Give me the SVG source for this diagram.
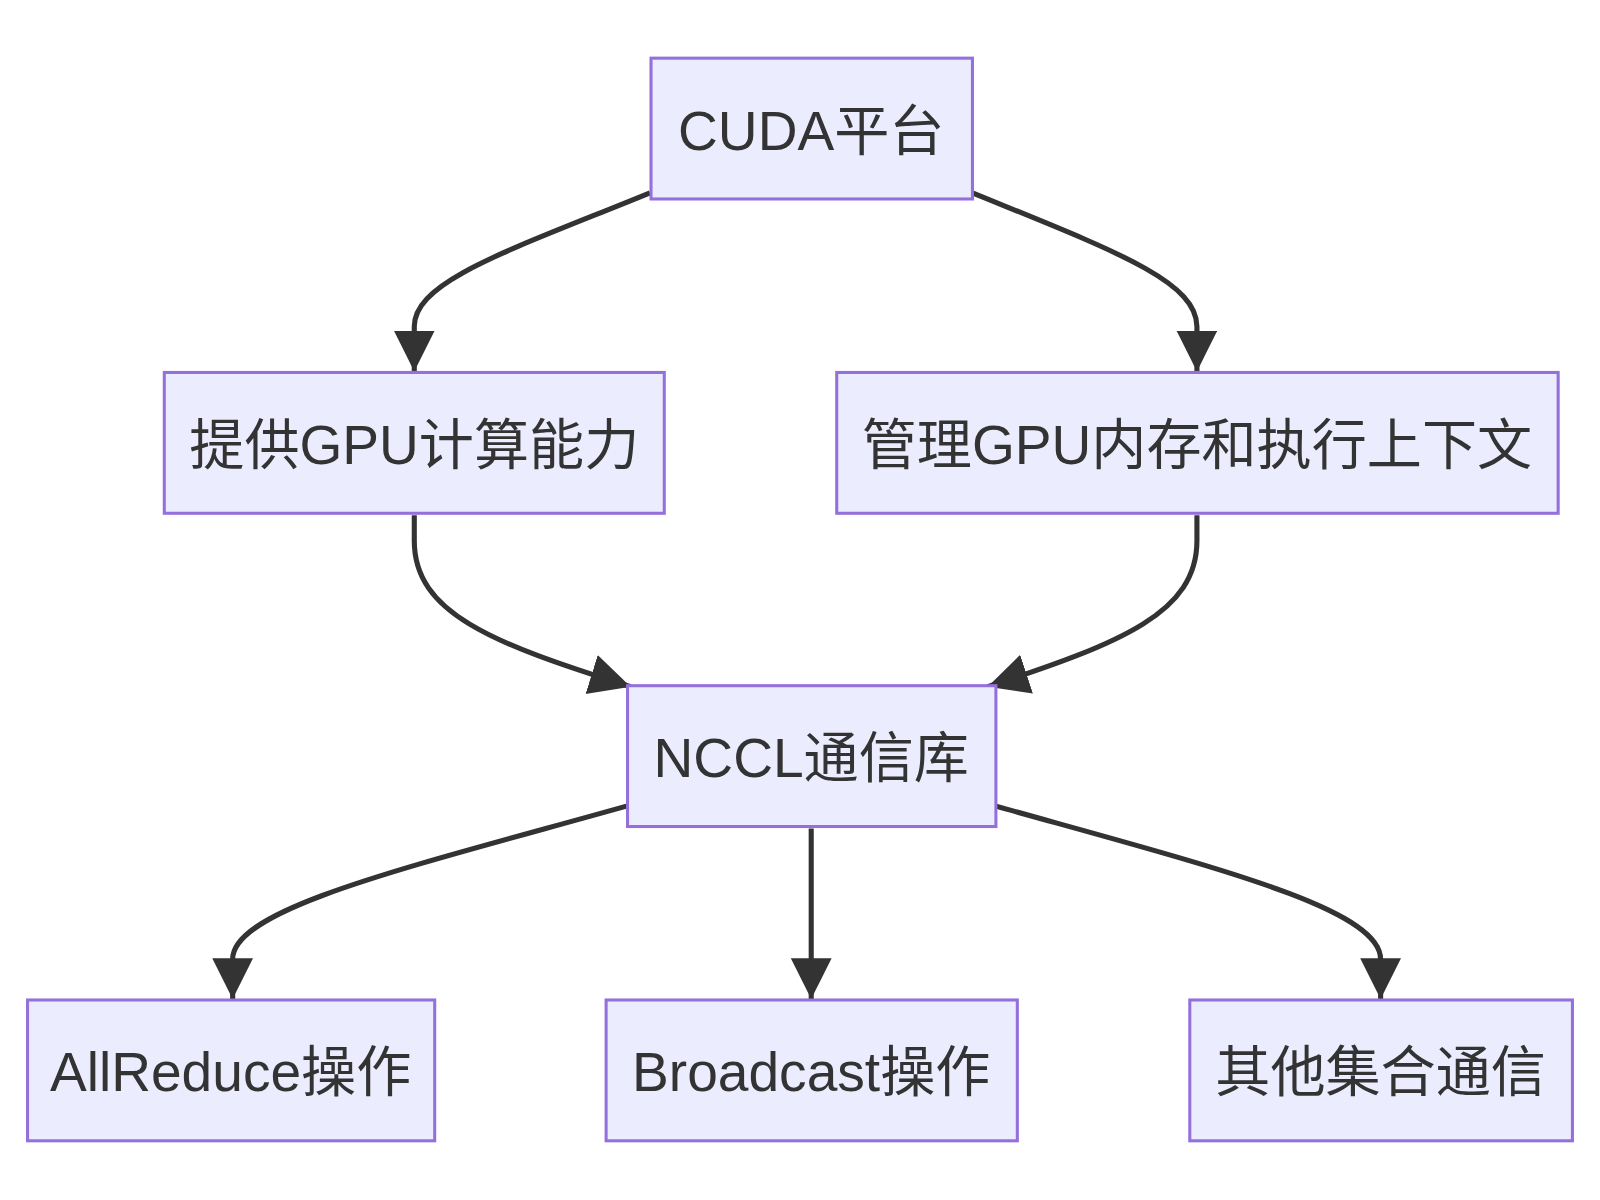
<svg xmlns="http://www.w3.org/2000/svg" width="1600" height="1200" viewBox="0 0 1600 1200">
<style>
.n rect{fill:#ECECFF;stroke:#9370DB;stroke-width:3}
.n text{font-family:"Liberation Sans","Noto Sans CJK SC",sans-serif;font-size:54px;fill:#333;text-anchor:middle;dominant-baseline:central}
.e path{fill:none;stroke:#333;stroke-width:5;marker-end:url(#a)}
</style>
<defs><marker id="a" markerUnits="userSpaceOnUse" markerWidth="44" markerHeight="44" refX="40" refY="20" orient="auto"><path d="M0,0 L40,20 L0,40 z" fill="#333"/></marker></defs>
<g transform="scale(1.0204)">
<g class="e">
<path d="M637,189 C500,245 406,275 406,320 L406,364"/>
<path d="M953,189 C1090,245 1173,275 1173,320 L1173,364"/>
<path d="M406,505 L406,530 C406,600 480,630 618,673"/>
<path d="M1173,505 L1173,530 C1173,600 1100,630 968,673"/>
<path d="M614,790 C400,850 228,890 228,940 L228,979"/>
<path d="M795,812 L795,979"/>
<path d="M976,790 C1190,850 1353,890 1353,940 L1353,979"/>
</g>
<g id="cuda" class="n"><rect x="638" y="57" width="315" height="138"/><text x="795" y="128">CUDA平台</text></g>
<g id="gpu" class="n"><rect x="161" y="365" width="490" height="138"/><text x="406" y="436">提供GPU计算能力</text></g>
<g id="mem" class="n"><rect x="820" y="365" width="707" height="138"/><text x="1173" y="436">管理GPU内存和执行上下文</text></g>
<g id="nccl" class="n"><rect x="615" y="672" width="361" height="138"/><text x="795" y="743">NCCL通信库</text></g>
<g id="ar" class="n"><rect x="27" y="980" width="399" height="138"/><text x="226" y="1051">AllReduce操作</text></g>
<g id="bc" class="n"><rect x="594" y="980" width="403" height="138"/><text x="795" y="1051">Broadcast操作</text></g>
<g id="other" class="n"><rect x="1166" y="980" width="375" height="138"/><text x="1353" y="1051">其他集合通信</text></g>
</g>
</svg>
